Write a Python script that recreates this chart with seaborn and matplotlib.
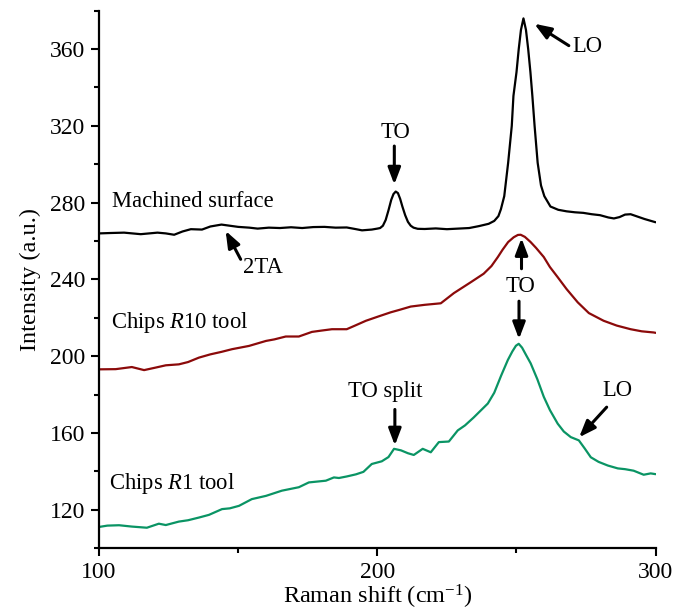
import matplotlib
matplotlib.use("Agg")
import matplotlib.pyplot as plt
from matplotlib.ticker import MultipleLocator
import seaborn as sns
import pandas as pd

# ---------------- data ----------------
machined_x = [100, 104, 109, 115, 121, 124, 127, 130, 133, 137, 140, 144, 147, 150, 154, 157,
              161, 165, 169, 173, 177, 181, 185, 189, 192, 194.5, 198, 200, 201, 202, 203, 204,
              205, 205.8, 206.6, 207.4, 208.2, 209, 210, 211, 212, 213, 214.5, 217, 221, 225,
              229, 233, 236.5, 240, 242, 243.5, 244.4, 245.6, 247, 248.3, 248.9, 250, 250.8,
              251.6, 252.5, 253.4, 254.2, 255, 255.7, 256.5, 257.6, 258.8, 260, 262.2, 265, 268,
              271, 274, 277, 280, 283, 285, 287, 289, 291, 293, 296, 300]
machined_y = [264.0, 264.2, 264.4, 263.6, 264.4, 264.0, 263.3, 265.0, 266.2, 266.0, 267.6, 268.6,
              268.0, 267.4, 267.0, 266.5, 267.0, 266.8, 267.2, 266.8, 267.3, 267.4, 267.0, 267.1,
              266.3, 265.6, 266.0, 266.5, 266.8, 268.0, 271.0, 276.0, 281.5, 284.5, 285.8, 285.0,
              282.0, 278.0, 273.5, 270.0, 268.0, 267.0, 266.4, 266.3, 266.6, 266.2, 266.5, 266.8,
              267.8, 269.0, 270.5, 273.0, 276.6, 283.4, 300.8, 320.0, 335.6, 348.0, 360.0, 370.0,
              376.0, 370.0, 360.0, 348.0, 335.6, 320.0, 300.8, 289.0, 283.4, 278.0, 276.3, 275.5,
              275.0, 274.7, 274.0, 273.5, 272.3, 271.8, 272.5, 273.8, 274.0, 273.0, 271.5, 269.8]

r10_x = [100, 106, 111.8, 116.2, 120, 124, 128.7, 132, 135.9, 140, 144, 147.8, 153.9, 160, 163,
         167.1, 171.8, 176.5, 180, 183.7, 189, 192, 195.9, 200.5, 204.8, 208, 212, 217, 222.8,
         227.5, 233.6, 238.2, 241, 243.3, 245, 247, 249, 250.5, 251.5, 253, 255, 257, 259.8, 262,
         264.8, 268, 272, 276, 281.3, 286, 291, 295, 299.3, 300]
r10_y = [193.2, 193.3, 194.4, 192.8, 194.0, 195.3, 195.8, 197.0, 199.3, 201.0, 202.3, 203.7,
         205.4, 208.0, 208.8, 210.3, 210.3, 212.7, 213.4, 214.1, 214.1, 216.0, 218.5, 220.8,
         222.9, 224.2, 225.9, 226.8, 227.6, 232.9, 238.6, 243.0, 247.0, 251.7, 255.5, 259.5,
         262.0, 263.2, 263.3, 262.2, 259.6, 256.5, 251.7, 246.5, 241.2, 235.0, 228.1, 222.5,
         218.5, 216.0, 214.1, 213.0, 212.4, 212.2]

r1_x = [100, 103, 107.2, 111.8, 117.2, 121.5, 124, 128.7, 132, 135.9, 139.5, 144.2, 147, 150.3,
        154.9, 160, 165.7, 171.8, 175.4, 181.5, 184.4, 186.2, 189, 192.3, 195, 198, 201.6, 204,
        206, 208.5, 211, 213.1, 216.3, 219.2, 222.1, 225.7, 228.9, 231.5, 234.6, 239.7, 242,
        244.5, 246.9, 248.5, 249.8, 250.8, 252, 253.5, 255.1, 257.5, 259.8, 262, 264.8, 267,
        269.5, 272.4, 274.5, 276.7, 279.5, 282.8, 286.4, 289, 292.1, 295.7, 298.2, 300]
r1_y = [111.1, 111.8, 112.0, 111.3, 110.7, 112.8, 112.1, 113.9, 114.6, 116.0, 117.4, 120.4,
        120.8, 122.1, 125.6, 127.3, 130.0, 131.8, 134.3, 135.2, 136.9, 136.6, 137.4, 138.5,
        139.8, 143.9, 145.3, 147.5, 151.8, 151.0, 149.5, 148.6, 151.8, 150.0, 155.3, 155.6,
        161.4, 164.0, 168.1, 175.4, 181.0, 190.0, 198.1, 202.5, 205.5, 206.5, 204.5, 200.5,
        196.3, 188.0, 178.9, 172.0, 164.9, 160.8, 157.9, 156.2, 152.0, 147.4, 145.0, 143.1,
        141.6, 141.2, 140.4, 138.3, 139.0, 138.6]

x_ticks = [100, 200, 300]
y_ticks = [120, 160, 200, 240, 280, 320, 360]

# ---------------- style ----------------
sns.set_style("ticks")
plt.rcParams["font.family"] = ["Liberation Serif", "DejaVu Serif"]
plt.rcParams["mathtext.fontset"] = "custom"
plt.rcParams["mathtext.rm"] = "Liberation Serif"
plt.rcParams["mathtext.it"] = "Liberation Serif:italic"
plt.rcParams["mathtext.default"] = "regular"
plt.rcParams["text.color"] = "black"
plt.rcParams["axes.labelcolor"] = "black"
plt.rcParams["xtick.color"] = "black"
plt.rcParams["ytick.color"] = "black"

BLACK = "#000000"
RED = "#8B0A0A"
GREEN = "#0A9464"

fig = plt.figure(figsize=(6.88, 6.15), dpi=100)
ax = fig.add_axes([0.1439, 0.1085, 0.8091, 0.8741])

df_m = pd.DataFrame({"x": machined_x, "y": machined_y})
df_10 = pd.DataFrame({"x": r10_x, "y": r10_y})
df_1 = pd.DataFrame({"x": r1_x, "y": r1_y})

sns.lineplot(data=df_m, x="x", y="y", ax=ax, color=BLACK, lw=1.6, estimator=None)
sns.lineplot(data=df_10, x="x", y="y", ax=ax, color=RED, lw=1.6, estimator=None)
sns.lineplot(data=df_1, x="x", y="y", ax=ax, color=GREEN, lw=1.6, estimator=None)

ax.set_xlim(100, 300)
ax.set_ylim(100, 380)
ax.set_xticks(x_ticks)
ax.set_yticks(y_ticks)
ax.xaxis.set_minor_locator(MultipleLocator(50))
ax.yaxis.set_minor_locator(MultipleLocator(20))
ax.tick_params(which="major", direction="out", length=6, width=1.5, labelsize=17, pad=4,
               colors="black")
ax.tick_params(which="minor", direction="out", length=3.5, width=1.5, colors="black")
for s in ["left", "bottom"]:
    ax.spines[s].set_linewidth(1.6)
    ax.spines[s].set_color("black")
sns.despine(ax=ax)

ax.set_xlabel("Raman shift (cm$^{-1}$)", fontsize=17.5, labelpad=0, color="black")
ax.set_ylabel("Intensity (a.u.)", fontsize=17.5, labelpad=6, color="black")

# ---------------- labels ----------------
fs = 16.3
ax.text(104.6, 280.5, "Machined surface", fontsize=fs, ha="left", va="center")
ax.text(104.2, 217.5, "Chips $\\mathit{R}$10 tool", fontsize=fs, ha="left", va="center")
ax.text(103.6, 133.8, "Chips $\\mathit{R}$1 tool", fontsize=fs, ha="left", va="center")

ap = dict(arrowstyle="-|>,head_length=1.0,head_width=0.38", color="black", lw=2.2,
          mutation_scale=10, shrinkA=0, shrinkB=0)


def arrow(tail, head):
    ax.annotate("", xy=head, xytext=tail, arrowprops=ap)


# 2TA
ax.text(151.8, 246.5, "2TA", fontsize=fs, ha="left", va="center")
arrow((150.9, 250.5), (145.5, 265.3))
# TO machined
ax.text(206.6, 316.5, "TO", fontsize=fs, ha="center", va="center")
arrow((206.1, 309.5), (206.1, 289.5))
# LO machined
ax.text(270.2, 361.2, "LO", fontsize=fs, ha="left", va="center")
arrow((268.8, 361.8), (256.4, 373.2))
# TO R10 / R1
ax.text(251.5, 236.2, "TO", fontsize=fs, ha="center", va="center")
arrow((251.8, 245.6), (251.8, 261.5))
arrow((250.9, 228.7), (250.9, 209.0))
# TO split
ax.text(202.8, 181.5, "TO split", fontsize=fs, ha="center", va="center")
arrow((206.3, 172.3), (206.3, 153.6))
# LO R1
ax.text(286.2, 182.4, "LO", fontsize=fs, ha="center", va="center")
arrow((282.4, 173.5), (272.5, 157.8))

fig.savefig("out.png", dpi=100)
